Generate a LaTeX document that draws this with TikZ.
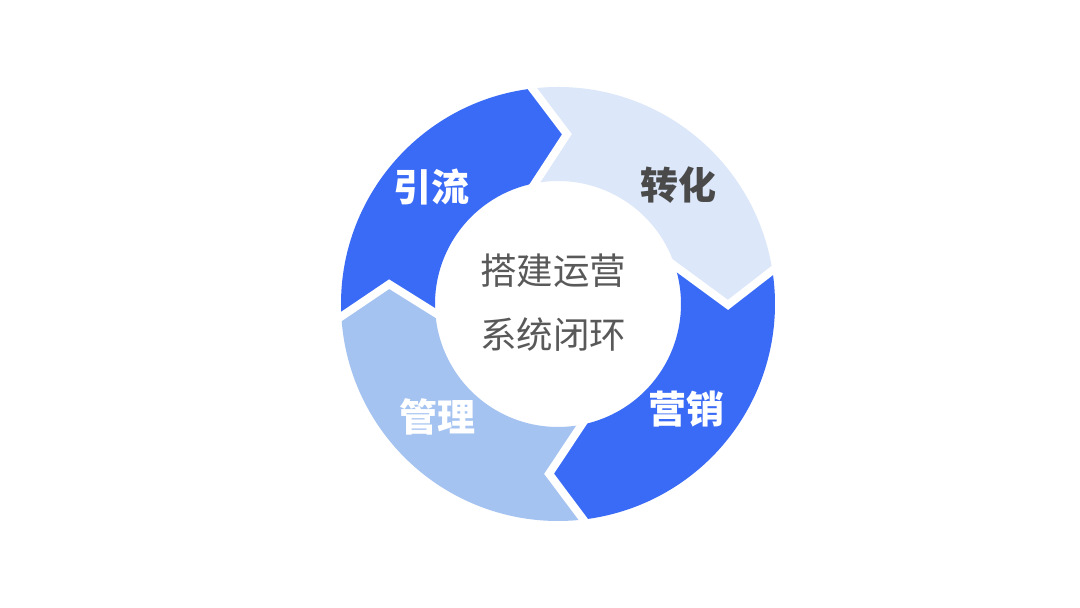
\documentclass[tikz,border=0pt]{standalone}
\usepackage{fontspec}
\newfontfamily\cjk{Noto Sans CJK SC}
\usetikzlibrary{calc}
\definecolor{bluedark}{HTML}{3A6BF6}
\definecolor{bluelight}{HTML}{DCE7FA}
\definecolor{bluemid}{HTML}{A5C3F1}
\definecolor{txtgray}{HTML}{4A4A4A}
\definecolor{ctrgray}{HTML}{595959}
\tikzset{
  lbl/.style={font=\cjk\bfseries\fontsize{38}{40}\selectfont, inner sep=0pt},
  ctr/.style={font=\cjk\fontsize{36.5}{40}\selectfont, text=ctrgray, inner sep=0pt},
  gap/.style={draw=white, line width=8pt, line join=miter, miter limit=10},
}
\begin{document}
\begin{tikzpicture}[x=1pt,y=1pt]
\useasboundingbox[fill=white] (0,0) rectangle (1080,608);
\begin{scope}[shift={(558,304)}]
  % 引流
  \fill[bluedark] (183.3:217) arc[start angle=183.3, end angle=96.8, radius=217]
    -- (87:170) -- (100.8:123) arc[start angle=100.8, end angle=184.2, radius=123]
    -- (173.3:170) -- cycle;
  % 转化
  \fill[bluelight] (96.8:217) arc[start angle=96.8, end angle=8.9, radius=217]
    -- (-0.3:170) -- (18:123) arc[start angle=18, end angle=100.8, radius=123]
    -- (87:170) -- cycle;
  % 营销
  \fill[bluedark] (8.9:217) arc[start angle=8.9, end angle=-83.3, radius=217]
    -- (-93:170) -- (-78.9:123) arc[start angle=-78.9, end angle=18, radius=123]
    -- (-0.3:170) -- cycle;
  % 管理
  \fill[bluemid] (-83.3:217) arc[start angle=-83.3, end angle=-176.7, radius=217]
    -- (-186.7:170) -- (-175.8:123) arc[start angle=-175.8, end angle=-78.9, radius=123]
    -- (-93:170) -- cycle;
  % white gaps
  \draw[gap] ($(87:170)!1.25!(96.8:217)$) -- (87:170) -- ($(87:170)!1.25!(100.8:123)$);
  \draw[gap] ($(-0.3:170)!1.25!(8.9:217)$) -- (-0.3:170) -- ($(-0.3:170)!1.25!(18:123)$);
  \draw[gap] ($(-93:170)!1.25!(-83.3:217)$) -- (-93:170) -- ($(-93:170)!1.25!(-78.9:123)$);
  \draw[gap] ($(173.3:170)!1.25!(183.3:217)$) -- (173.3:170) -- ($(173.3:170)!1.25!(184.2:123)$);
\end{scope}
\node[lbl, text=white] (yinliu) at (431,421) {引流};
\node[lbl, text=txtgray] (zhuanhua) at (678,423) {转化};
\node[lbl, text=white] (yingxiao) at (686,199) {营销};
\node[lbl, text=white] (guanli) at (437,191) {管理};
\node[ctr] (line1) at (553,337) {搭建运营};
\node[ctr] (line2) at (553,273) {系统闭环};
\end{tikzpicture}
\end{document}
